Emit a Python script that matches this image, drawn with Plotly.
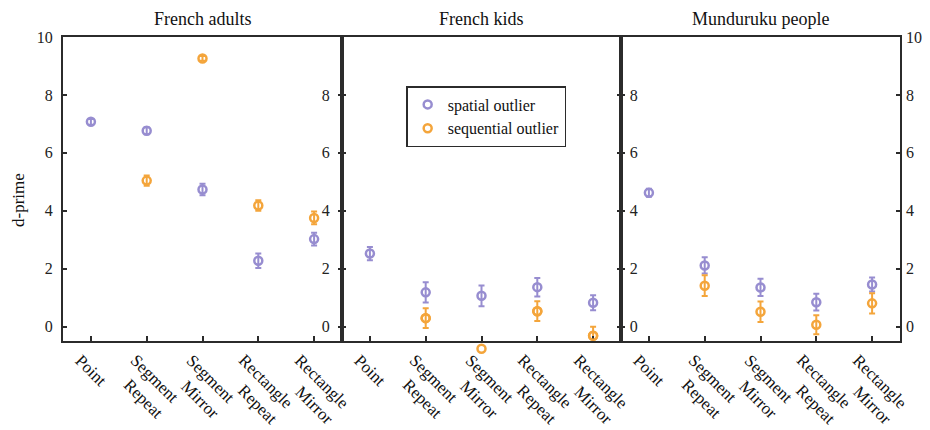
import plotly.graph_objects as go

categories = ["Point", "Segment Repeat", "Segment Mirror", "Rectangle Repeat", "Rectangle Mirror"]
category_labels = ["Point", "Segment<br>Repeat", "Segment<br>Mirror", "Rectangle<br>Repeat", "Rectangle<br>Mirror"]
panels = ["French adults", "French kids", "Munduruku people"]

# spatial outlier (purple)
spatial_adults = [7.07, 6.76, 4.73, 2.27, 3.02]
spatial_adults_err = [0.10, 0.12, 0.20, 0.25, 0.22]
spatial_kids = [2.52, 1.18, 1.06, 1.36, 0.82]
spatial_kids_err = [0.23, 0.35, 0.36, 0.32, 0.26]
spatial_mund = [4.62, 2.11, 1.35, 0.84, 1.45]
spatial_mund_err = [0.14, 0.28, 0.30, 0.29, 0.24]

# sequential outlier (orange); None where not measured
seq_adults = [None, 5.04, 9.26, 4.18, 3.75]
seq_adults_err = [0, 0.18, 0.08, 0.18, 0.22]
seq_kids = [None, 0.29, -0.77, 0.53, -0.32]
seq_kids_err = [0, 0.34, 0.20, 0.34, 0.31]
seq_mund = [None, 1.41, 0.51, 0.06, 0.80]
seq_mund_err = [0, 0.36, 0.35, 0.33, 0.35]

y_ticks_full = [0, 2, 4, 6, 8, 10]
y_ticks_inner = [0, 2, 4, 6, 8]
Y_RANGE = [-0.5, 10]

PURPLE = "#978dd0"
ORANGE = "#f4a53b"
AX = "#2b2b2b"
FONT = "Liberation Serif"

# page has an 8px body margin; figure coordinates below are relative to the figure
W, H = 922, 422
M_L, M_R, M_T, M_B = 55, 30, 29, 60
AXIS_BOTTOM_PX = 333
plot_w = W - M_L - M_R
plot_h = H - M_T - M_B
y_dom_bottom = (H - M_B - AXIS_BOTTOM_PX) / plot_h
px_per_unit = (plot_h * (1 - y_dom_bottom)) / (Y_RANGE[1] - Y_RANGE[0])
ext_range = [Y_RANGE[1] - plot_h / px_per_unit, Y_RANGE[1]]

spatial = [(spatial_adults, spatial_adults_err), (spatial_kids, spatial_kids_err), (spatial_mund, spatial_mund_err)]
seq = [(seq_adults, seq_adults_err), (seq_kids, seq_kids_err), (seq_mund, seq_mund_err)]

fig = go.Figure()
for i in range(3):
    xa = "x" if i == 0 else f"x{i+1}"
    ya = "y" if i == 0 else f"y{i+1}"
    for (vals, errs), name, col in [(spatial[i], "spatial outlier", PURPLE), (seq[i], "sequential outlier", ORANGE)]:
        fig.add_trace(go.Scatter(
            x=categories, y=vals, xaxis=xa, yaxis=ya, mode="markers", name=name,
            showlegend=(i == 1),
            marker=dict(symbol="circle-open", size=8, color=col, line=dict(width=2.5, color=col)),
            error_y=dict(type="data", array=errs, visible=True, color=col, thickness=2, width=3),
        ))

# kids sequential markers also on an unclipped helper subplot (point below the axis stays visible)
fig.add_trace(go.Scatter(
    x=categories, y=seq_kids, xaxis="x5", yaxis="y5", mode="markers", showlegend=False,
    marker=dict(symbol="circle-open", size=8, color=ORANGE, line=dict(width=2.5, color=ORANGE)),
))

d1, d2 = 279 / 837, 558 / 837
doms = [[0, d1], [d1, d2], [d2, 1]]
common_x = dict(type="category", categoryorder="array", categoryarray=categories, range=[-0.5, 4.5],
                showline=True, linecolor=AX, linewidth=2, mirror=True, ticks="inside", ticklen=5,
                tickwidth=2, tickcolor=AX, showticklabels=False, showgrid=False, zeroline=False,
                automargin=False)
common_y = dict(range=Y_RANGE, domain=[y_dom_bottom, 1], showline=True, linecolor=AX, linewidth=2,
                mirror="ticks", ticks="inside", ticklen=4, tickwidth=2, tickcolor=AX, showgrid=False,
                zeroline=False, automargin=False, tickfont=dict(family=FONT, size=16, color="#222"))

layout = dict(
    width=W, height=H, plot_bgcolor="rgba(0,0,0,0)", paper_bgcolor="white",
    margin=dict(l=M_L, r=M_R, t=M_T, b=M_B),
    font=dict(family=FONT, size=16, color="#111"),
    legend=dict(x=0.41, y=(1 - (78 - M_T) / plot_h), xanchor="left", yanchor="top", bgcolor="white",
                bordercolor=AX, borderwidth=1.5, font=dict(family=FONT, size=16, color="#111"),
                tracegroupgap=0, itemwidth=30),
)
for i in range(3):
    k = "" if i == 0 else str(i + 1)
    layout["xaxis" + k] = dict(common_x, domain=doms[i], anchor="y" + k)
layout["yaxis"] = dict(common_y, anchor="x", tickvals=y_ticks_full, ticklabelstandoff=5)
layout["yaxis2"] = dict(common_y, anchor="x2", tickvals=y_ticks_inner, ticklabelstandoff=7)
layout["yaxis3"] = dict(common_y, anchor="x3", tickvals=y_ticks_inner, ticklabelposition="inside",
                        ticklabelstandoff=5)
layout["yaxis4"] = dict(range=Y_RANGE, domain=[y_dom_bottom, 1], overlaying="y3", anchor="x3", side="right",
                        showline=False, ticks="", tickvals=y_ticks_full, showgrid=False, zeroline=False,
                        automargin=False, tickfont=dict(family=FONT, size=16, color="#222"), ticklabelstandoff=5)
layout["xaxis5"] = dict(type="category", categoryorder="array", categoryarray=categories, range=[-0.5, 4.5],
                        domain=doms[1], anchor="y5", visible=False)
layout["yaxis5"] = dict(range=ext_range, domain=[0, 1], anchor="x5", visible=False)
fig.update_layout(**layout)
fig.add_trace(go.Scatter(x=[None], y=[None], xaxis="x3", yaxis="y4", showlegend=False))

# y-axis title
fig.add_annotation(text="d-prime", x=(10 - M_L) / plot_w, y=1 - (192 - M_T) / plot_h, xref="paper", yref="paper",
                   textangle=-90, xanchor="center", yanchor="middle", showarrow=False,
                   font=dict(family=FONT, size=17, color="#111"))

for i, t in enumerate(panels):
    fig.add_annotation(text=t, x=(doms[i][0] + doms[i][1]) / 2, y=1, xref="paper", yref="paper",
                       xanchor="center", yanchor="bottom", yshift=6, showarrow=False,
                       font=dict(family=FONT, size=18, color="#111"))

for i in range(3):
    xr = "x" if i == 0 else f"x{i+1}"
    for cat, lab in zip(categories, category_labels):
        fig.add_annotation(text=lab, x=cat, xref=xr, y=y_dom_bottom, yref="paper", textangle=45,
                           xanchor="center", yanchor="top", yshift=-7, showarrow=False, align="right",
                           font=dict(family=FONT, size=17, color="#111"))

fig.write_html("out.html")
